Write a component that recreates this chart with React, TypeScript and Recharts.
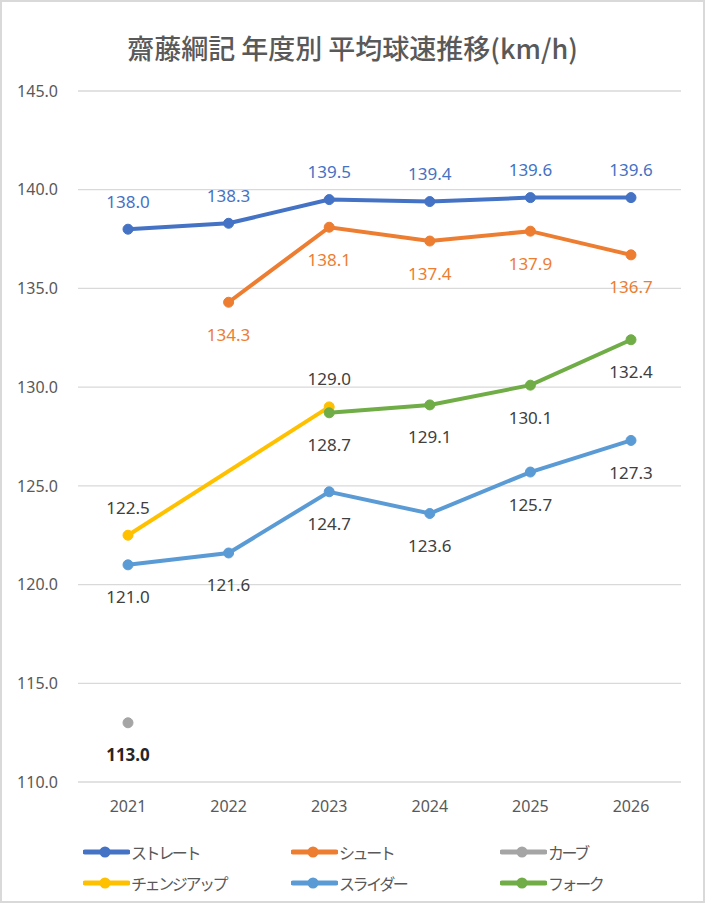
import React from 'react';
import { LineChart, Line, XAxis, YAxis, CartesianGrid, LabelList } from 'recharts';

const years = ['2021', '2022', '2023', '2024', '2025', '2026'];
const straight = [138.0, 138.3, 139.5, 139.4, 139.6, 139.6];
const shoot = [null, 134.3, 138.1, 137.4, 137.9, 136.7];
const curve = [113.0, null, null, null, null, null];
const changeup = [122.5, null, 129.0, null, null, null];
const slider = [121.0, 121.6, 124.7, 123.6, 125.7, 127.3];
const fork = [null, null, 128.7, 129.1, 130.1, 132.4];
const yTicks = [110, 115, 120, 125, 130, 135, 140, 145];

const series = [
  { key: 'straight', name: 'ストレート', values: straight, color: '#4472C4', labelColor: '#4472C4', pos: 'above', bold: false },
  { key: 'shoot', name: 'シュート', values: shoot, color: '#ED7D31', labelColor: '#ED7D31', pos: 'below', bold: false },
  { key: 'curve', name: 'カーブ', values: curve, color: '#A5A5A5', labelColor: '#262626', pos: 'below', bold: true },
  { key: 'changeup', name: 'チェンジアップ', values: changeup, color: '#FFC000', labelColor: '#404040', pos: 'above', bold: false },
  { key: 'slider', name: 'スライダー', values: slider, color: '#5B9BD5', labelColor: '#404040', pos: 'below', bold: false },
  { key: 'fork', name: 'フォーク', values: fork, color: '#70AD47', labelColor: '#404040', pos: 'below', bold: false },
];

const data = years.map((year, i) => {
  const row: any = { year };
  series.forEach((s) => {
    row[s.key] = s.values[i];
  });
  return row;
});

const FONT = '"Noto Sans", "Noto Sans CJK JP", sans-serif';

const makeLabel = (pos: string, color: string, bold: boolean) => (props: any) => {
  const { x, y, value } = props;
  if (value === null || value === undefined) return null;
  const dy = pos === 'above' ? -28 : 32;
  return (
    <text
      x={x}
      y={y + dy}
      textAnchor="middle"
      dominantBaseline="central"
      fill={color}
      fontSize={17}
      fontWeight={bold ? 700 : 400}
      fontFamily={FONT}
    >
      {Number(value).toFixed(1)}
    </text>
  );
};

const legendPos = [
  { left: 83, top: 852 },
  { left: 291, top: 852 },
  { left: 500, top: 852 },
  { left: 83, top: 883 },
  { left: 291, top: 883 },
  { left: 500, top: 883 },
];

export default function App() {
  return (
    <div
      style={{
        position: 'absolute',
        left: 0,
        top: 0,
        width: 705,
        height: 903,
        boxSizing: 'border-box',
        border: '2px solid #d9d9d9',
        background: '#fff',
        overflow: 'hidden',
      }}
    >
      <div
        style={{
          position: 'absolute',
          left: -2,
          top: 26,
          width: 705,
          textAlign: 'center',
          fontFamily: '"Noto Sans CJK JP", sans-serif',
          fontSize: 27,
          fontWeight: 500,
          color: '#595959',
        }}
      >
        齋藤綱記 年度別 平均球速推移(km/h)
      </div>
      <div style={{ position: 'absolute', left: -2, top: -2 }}>
        <LineChart width={705} height={903} data={data} margin={{ top: 91, right: 24, left: 0, bottom: 0 }}>
          <CartesianGrid vertical={false} stroke="#d9d9d9" strokeWidth={1.3} />
          <XAxis
            dataKey="year"
            axisLine={false}
            tickLine={false}
            tickSize={0}
            tickMargin={19}
            height={121}
            padding={{ left: 50, right: 50 }}
            tick={{ fill: '#595959', fontSize: 16, fontFamily: FONT }}
          />
          <YAxis
            domain={[110, 145]}
            ticks={yTicks}
            axisLine={false}
            tickLine={false}
            tickSize={0}
            tickMargin={20}
            width={78}
            tickFormatter={(v: number) => v.toFixed(1)}
            tick={{ fill: '#595959', fontSize: 16, fontFamily: FONT }}
          />
          {series.map((s) => (
            <Line
              key={s.key}
              dataKey={s.key}
              name={s.name}
              stroke={s.color}
              strokeWidth={4}
              dot={{ r: 5, fill: s.color, stroke: s.color, strokeWidth: 1 }}
              connectNulls={s.key === 'changeup'}
              isAnimationActive={false}
            >
              <LabelList dataKey={s.key} content={makeLabel(s.pos, s.labelColor, s.bold)} />
            </Line>
          ))}
        </LineChart>
      </div>
      {series.map((s, i) => (
        <div
          key={s.key}
          style={{
            position: 'absolute',
            left: legendPos[i].left - 2,
            top: legendPos[i].top - 2 - 11,
            display: 'flex',
            alignItems: 'center',
            height: 22,
            fontFamily: '"Noto Sans CJK JP", sans-serif',
            fontSize: 16,
            letterSpacing: -2.4,
            color: '#595959',
            whiteSpace: 'nowrap',
          }}
        >
          <svg width={47} height={14} style={{ marginRight: 1 }}>
            <line x1={2} y1={7} x2={45} y2={7} stroke={s.color} strokeWidth={5} strokeLinecap="round" />
            <circle cx={22} cy={7} r={5.5} fill={s.color} />
          </svg>
          <span>{s.name}</span>
        </div>
      ))}
    </div>
  );
}
